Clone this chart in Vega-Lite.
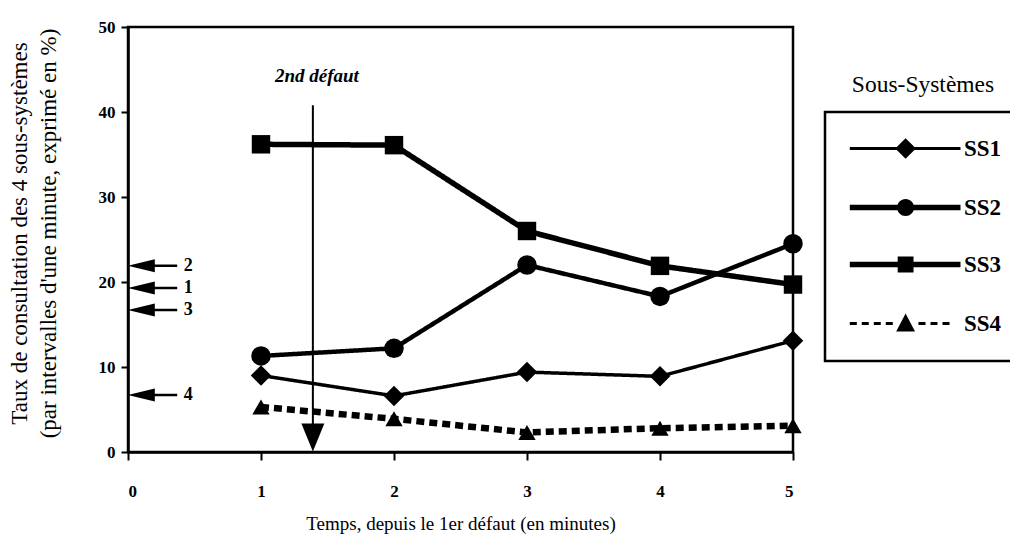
{
  "$schema": "https://vega.github.io/schema/vega-lite/v6.json",
  "width": 665,
  "height": 425,
  "autosize": {"type": "none"},
  "padding": {"left": 128, "top": 27, "right": 217, "bottom": 91},
  "background": "white",
  "title": {"text": "Sous-Systèmes", "anchor": "end", "frame": "group", "orient": "top", "offset": 0, "dx": 130, "dy": 90, "align": "center", "baseline": "middle", "font": "Liberation Serif", "fontSize": 23.5, "fontWeight": "normal", "color": "black"},
  "datasets": {
    "series": [
      {"t": 1, "ss": "SS1", "v": 9.0}, {"t": 2, "ss": "SS1", "v": 6.6}, {"t": 3, "ss": "SS1", "v": 9.4}, {"t": 4, "ss": "SS1", "v": 8.9}, {"t": 5, "ss": "SS1", "v": 13.1},
      {"t": 1, "ss": "SS2", "v": 11.3}, {"t": 2, "ss": "SS2", "v": 12.2}, {"t": 3, "ss": "SS2", "v": 22.0}, {"t": 4, "ss": "SS2", "v": 18.3}, {"t": 5, "ss": "SS2", "v": 24.5},
      {"t": 1, "ss": "SS3", "v": 36.2}, {"t": 2, "ss": "SS3", "v": 36.1}, {"t": 3, "ss": "SS3", "v": 26.0}, {"t": 4, "ss": "SS3", "v": 21.9}, {"t": 5, "ss": "SS3", "v": 19.7},
      {"t": 1, "ss": "SS4", "v": 5.3}, {"t": 2, "ss": "SS4", "v": 3.9}, {"t": 3, "ss": "SS4", "v": 2.3}, {"t": 4, "ss": "SS4", "v": 2.8}, {"t": 5, "ss": "SS4", "v": 3.1}
    ],
    "initial": [
      {"label": "2", "v": 21.9}, {"label": "1", "v": 19.3}, {"label": "3", "v": 16.7}, {"label": "4", "v": 6.7}
    ],
    "event": [
      {"label": "2nd défaut", "t": 1.39, "top": 40.8}
    ]
  },
  "layer": [
    {
      "data": {"name": "series"},
      "mark": {"type": "line", "color": "black", "strokeCap": "butt", "strokeJoin": "miter"},
      "encoding": {
        "x": {"field": "t", "type": "quantitative", "scale": {"domain": [0, 5], "nice": false, "zero": false},
              "axis": {"values": [0, 1, 2, 3, 4, 5], "title": "Temps, depuis le 1er défaut (en minutes)", "grid": false, "format": "d",
                       "tickSize": 8, "labelPadding": 23, "titlePadding": 15, "titleFontSize": 19,
                       "encode": {"ticks": {"update": {"y": {"value": -8}}}}}},
        "y": {"field": "v", "type": "quantitative", "scale": {"domain": [0, 50], "nice": false},
              "axis": {"values": [0, 10, 20, 30, 40, 50], "title": ["Taux de consultation des 4 sous-systèmes", "(par intervalles d'une minute, exprimé en %)"],
                       "grid": false, "tickSize": 7, "labelPadding": 6, "titleX": -102, "titleY": 206, "titleBaseline": "alphabetic", "titleLineHeight": 29, "titleFontSize": 23,
                       "encode": {"ticks": {"update": {"x": {"value": 7}}}}}},
        "strokeWidth": {"field": "ss", "type": "ordinal", "scale": {"domain": ["SS1", "SS2", "SS3", "SS4"], "range": [3.5, 6.5, 8, 3.5]}, "legend": null},
        "strokeDash": {"field": "ss", "type": "nominal", "scale": {"domain": ["SS1", "SS2", "SS3", "SS4"], "range": [[1, 0], [1, 0], [1, 0], [8, 5]]}, "legend": null}
      }
    },
    {
      "data": {"name": "series"},
      "mark": {"type": "point", "filled": true, "color": "black", "opacity": 1},
      "encoding": {
        "x": {"field": "t", "type": "quantitative"},
        "y": {"field": "v", "type": "quantitative"},
        "shape": {"field": "ss", "type": "nominal", "scale": {"domain": ["SS1", "SS2", "SS3", "SS4"], "range": ["diamond", "circle", "square", "triangle-up"]}, "legend": null},
        "size": {"field": "ss", "type": "ordinal", "scale": {"domain": ["SS1", "SS2", "SS3", "SS4"], "range": [420, 300, 300, 330]}, "legend": null}
      }
    },
    {
      "data": {"name": "series"},
      "mark": {"type": "point", "filled": true, "color": "black", "opacity": 0},
      "encoding": {
        "x": {"field": "t", "type": "quantitative"},
        "y": {"field": "v", "type": "quantitative"},
        "shape": {"field": "ss", "type": "nominal",
                  "scale": {"domain": ["SS1", "SS2", "SS3", "SS4"],
                            "range": [
                              "M -1.3 -0.17 L 11.0 -0.17 L 11.0 0.17 L -1.3 0.17 Z M 4.9 -1.15 L 6.05 0 L 4.9 1.15 L 3.75 0 Z",
                              "M -1.3 -0.3 L 11.0 -0.3 L 11.0 0.3 L -1.3 0.3 Z M 3.95 0 A 0.95 0.95 0 1 1 5.85 0 A 0.95 0.95 0 1 1 3.95 0 Z",
                              "M -1.3 -0.3 L 11.0 -0.3 L 11.0 0.3 L -1.3 0.3 Z M 4.02 -0.88 L 5.78 -0.88 L 5.78 0.88 L 4.02 0.88 Z",
                              "M -1.3 -0.17 L -0.52 -0.17 L -0.52 0.17 L -1.3 0.17 Z M 0.03 -0.17 L 0.81 -0.17 L 0.81 0.17 L 0.03 0.17 Z M 1.37 -0.17 L 2.14 -0.17 L 2.14 0.17 L 1.37 0.17 Z M 2.7 -0.17 L 3.48 -0.17 L 3.48 0.17 L 2.7 0.17 Z M 4.9 -1.1 L 5.95 0.9 L 3.85 0.9 Z M 6.33 -0.17 L 7.11 -0.17 L 7.11 0.17 L 6.33 0.17 Z M 7.67 -0.17 L 8.44 -0.17 L 8.44 0.17 L 7.67 0.17 Z M 9 -0.17 L 9.78 -0.17 L 9.78 0.17 L 9 0.17 Z"
                            ]},
                  "legend": {
                    "orient": "none", "legendX": 697, "legendY": 85, "title": null,
                    "strokeColor": "black", "padding": 25, "rowPadding": 33,
                    "symbolSize": 324, "symbolOpacity": 1, "symbolFillColor": "black", "symbolStrokeColor": "black",
                    "labelFont": "Liberation Serif", "labelFontSize": 23, "labelFontWeight": "bold", "labelColor": "black", "labelOffset": 91
                  }}
      }
    },
    {
      "data": {"name": "event"},
      "mark": {"type": "rule", "color": "black", "strokeWidth": 2},
      "encoding": {
        "x": {"field": "t", "type": "quantitative"},
        "y": {"field": "top", "type": "quantitative"},
        "y2": {"datum": 3}
      }
    },
    {
      "data": {"name": "event"},
      "mark": {"type": "point", "filled": true, "color": "black", "opacity": 1, "size": 784, "shape": "M -0.82 -1 L 0.82 -1 L 0 1 Z"},
      "encoding": {
        "x": {"field": "t", "type": "quantitative"},
        "y": {"datum": 1.7}
      }
    },
    {
      "data": {"name": "event"},
      "mark": {"type": "text", "font": "Liberation Serif", "fontSize": 19, "fontStyle": "italic", "fontWeight": "bold", "color": "black", "baseline": "middle", "align": "center", "dx": 4},
      "encoding": {
        "x": {"field": "t", "type": "quantitative"},
        "y": {"datum": 44.2},
        "text": {"field": "label"}
      }
    },
    {
      "data": {"name": "initial"},
      "mark": {"type": "rule", "color": "black", "strokeWidth": 2.5},
      "encoding": {
        "x": {"datum": 0.1},
        "x2": {"datum": 0.37},
        "y": {"field": "v", "type": "quantitative"}
      }
    },
    {
      "data": {"name": "initial"},
      "mark": {"type": "point", "filled": true, "color": "black", "opacity": 1, "size": 729, "shape": "M -1 0 L 1 -0.48 L 1 0.48 Z"},
      "encoding": {
        "x": {"datum": 0.1},
        "y": {"field": "v", "type": "quantitative"}
      }
    },
    {
      "data": {"name": "initial"},
      "mark": {"type": "text", "font": "Liberation Serif", "fontSize": 18, "fontWeight": "bold", "color": "black", "baseline": "middle", "align": "left"},
      "encoding": {
        "x": {"datum": 0.42},
        "y": {"field": "v", "type": "quantitative"},
        "text": {"field": "label"}
      }
    }
  ],
  "resolve": {"scale": {"shape": "independent", "size": "independent"}, "legend": {"shape": "independent"}},
  "config": {
    "font": "Liberation Serif",
    "view": {"stroke": "black", "strokeWidth": 2.5},
    "legend": {"strokeWidth": 2.5},
    "axis": {
      "domainColor": "black", "domainWidth": 2.5, "tickColor": "black", "tickWidth": 2,
      "labelFont": "Liberation Serif", "labelFontSize": 17, "labelFontWeight": "bold", "labelColor": "black",
      "titleFont": "Liberation Serif", "titleFontSize": 19, "titleFontWeight": "normal", "titleColor": "black"
    }
  }
}
